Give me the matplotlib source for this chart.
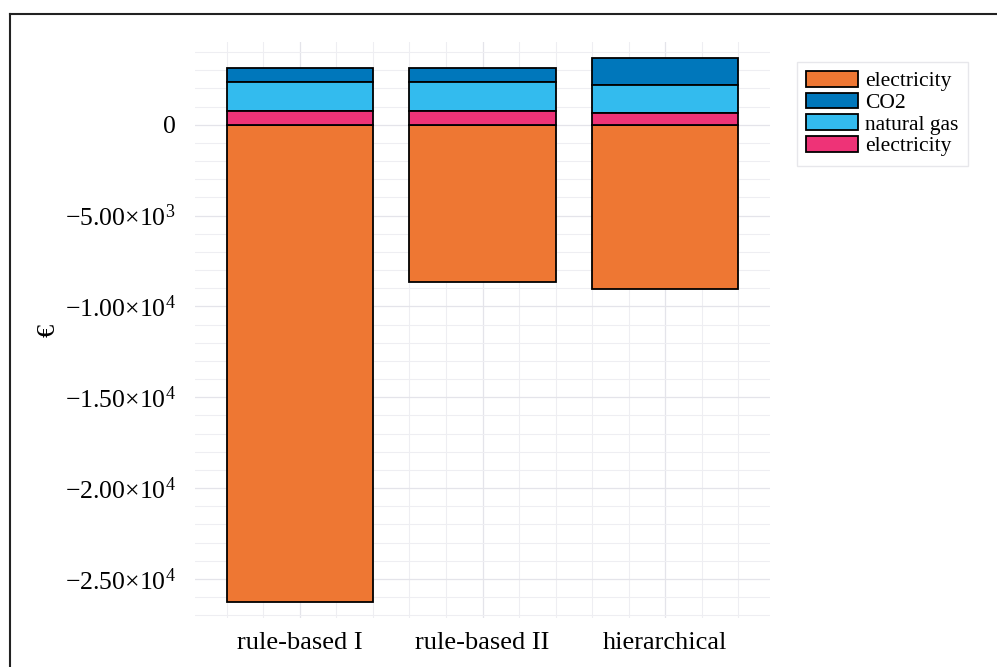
import numpy as np
import matplotlib
matplotlib.use("Agg")
import matplotlib.pyplot as plt
from matplotlib.lines import Line2D

plt.rcParams['font.family'] = ['Liberation Serif', 'DejaVu Serif']
plt.rcParams['mathtext.fontset'] = 'custom'
plt.rcParams['mathtext.rm'] = 'Liberation Serif'
plt.rcParams['mathtext.it'] = 'Liberation Serif:italic'

# data (EUR)
strategies = ["rule-based I", "rule-based II", "hierarchical"]
elec_cost = [-26270, -8660, -9050]     # orange, negative part
elec_pos = [770, 770, 640]             # pink
natural_gas = [1600, 1600, 1520]
co2 = [740, 740, 1520]

c_orange = "#EE7733"
c_blue = "#0077BB"
c_cyan = "#33BBEE"
c_pink = "#EE3377"

fig = plt.figure(figsize=(9.97, 6.67), dpi=100)
ax = fig.add_axes([195/997, 1 - 618/667, 575/997, 576/667])

x = np.arange(len(strategies))
w = 0.8
kw = dict(width=w, edgecolor="black", linewidth=1.3)

ax.bar(x, elec_cost, color=c_orange, label="electricity", **kw)
b1 = np.array(elec_pos)
b2 = b1 + np.array(natural_gas)
ax.bar(x, co2, bottom=b2, color=c_blue, label="CO2", **kw)
ax.bar(x, natural_gas, bottom=b1, color=c_cyan, label="natural gas", **kw)
ax.bar(x, elec_pos, color=c_pink, label="electricity", **kw)

ax.set_xlim(-0.575, 2.575)
ax.set_ylim(-27150, 4550)

yt = [0, -5000, -10000, -15000, -20000, -25000]
ylab = ["0", r"$-5.00{\times}10^{3}$", r"$-1.00{\times}10^{4}$",
        r"$-1.50{\times}10^{4}$", r"$-2.00{\times}10^{4}$", r"$-2.50{\times}10^{4}$"]
ax.set_yticks(yt)
ax.set_yticklabels(ylab, fontsize=18.5)
ax.set_yticks(np.arange(-27000, 4001, 1000), minor=True)
ax.set_xticks(x)
ax.set_xticklabels(strategies, fontsize=19)
ax.set_xticks(np.arange(-0.4, 2.41, 0.2), minor=True)

ax.grid(True, which="major", color="#e4e4ea", linewidth=0.9)
ax.grid(True, which="minor", color="#eeeef2", linewidth=0.8)
ax.set_axisbelow(True)
ax.tick_params(which="both", length=0)
ax.tick_params(axis="x", pad=10)
ax.tick_params(axis="y", pad=14)
for s in ax.spines.values():
    s.set_visible(False)

ax.set_ylabel("€", fontsize=19, labelpad=4)

ax.legend(loc="upper left", bbox_to_anchor=(797/997, 1 - 62/667),
          bbox_transform=fig.transFigure, fontsize=15.5, frameon=True,
          fancybox=False, edgecolor="#e2e2e6", handlelength=2.4,
          handleheight=0.75, labelspacing=0.06, borderpad=0.42,
          handletextpad=0.35, borderaxespad=0)

# outer frame
fig.add_artist(Line2D([10/997, 10/997], [0, 1 - 14/667], transform=fig.transFigure,
                      color="#222222", linewidth=1.5))
fig.add_artist(Line2D([10/997, 1], [1 - 14/667, 1 - 14/667], transform=fig.transFigure,
                      color="#222222", linewidth=1.5))

fig.savefig("out.png", dpi=100)
